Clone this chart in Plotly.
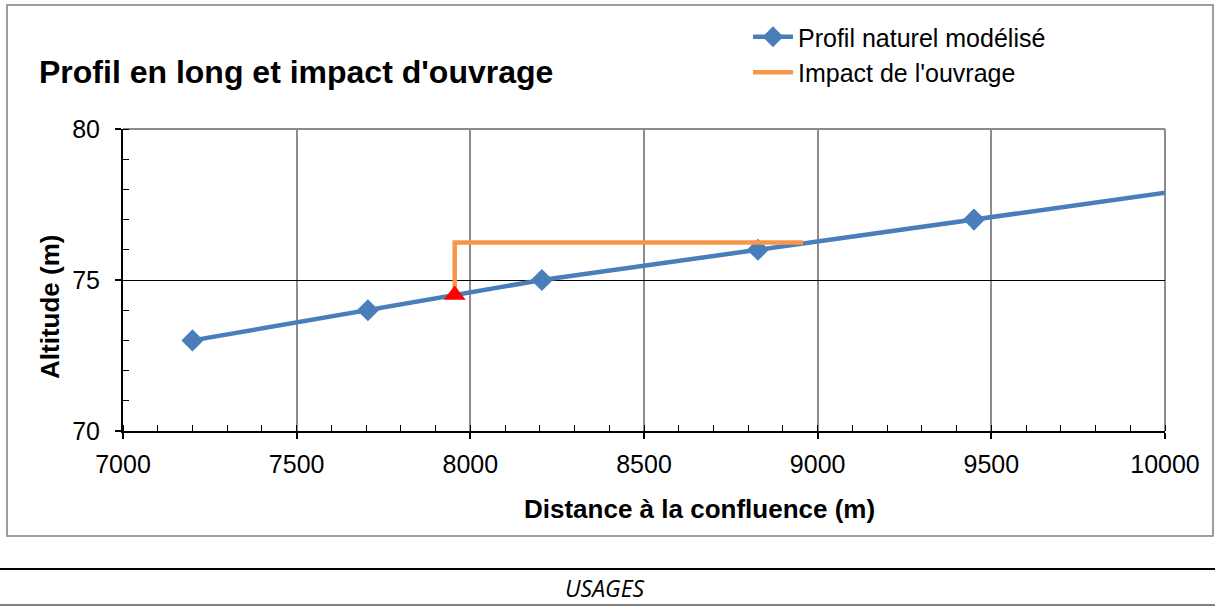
import plotly.graph_objects as go

# Profil naturel modélisé (distance à la confluence en m, altitude en m)
profil_distance = [7200, 7705, 8206, 8828, 9450, 10070]
profil_altitude = [73.0, 74.0, 75.0, 76.0, 77.0, 78.0]

# Impact de l'ouvrage : remous depuis l'ouvrage jusqu'au raccordement
impact_distance = [7955, 7955, 8958]
impact_altitude = [74.5, 76.24, 76.24]

# Position de l'ouvrage
ouvrage_distance = [7955]
ouvrage_altitude = [74.5]

x_ticks = [7000, 7500, 8000, 8500, 9000, 9500, 10000]
x_tick_labels = ["7000", "7500", "8000", "8500", "9000", "9500", "10000"]
y_ticks = [70, 75, 80]
y_tick_labels = ["70", "75", "80"]

W, H = 1215, 606
PL, PR, PT, PB = 123, 1165, 129, 431  # plot area in pixels


def px(x):
    return (x - PL) / (PR - PL)


def py(y):
    return (PB - y) / (PB - PT)


BLUE = "#4A7EBB"
ORANGE = "#F79646"
FONT = "Liberation Sans, Arial, sans-serif"

fig = go.Figure()

fig.add_trace(go.Scatter(
    x=profil_distance, y=profil_altitude, mode="lines+markers",
    name="Profil naturel modélisé",
    line=dict(color=BLUE, width=4.5),
    marker=dict(symbol="diamond", size=17, color=BLUE),
    cliponaxis=True,
))
fig.add_trace(go.Scatter(
    x=impact_distance, y=impact_altitude, mode="lines",
    name="Impact de l'ouvrage",
    line=dict(color=ORANGE, width=4.5),
))
fig.add_trace(go.Scatter(
    x=ouvrage_distance, y=ouvrage_altitude, mode="markers",
    showlegend=False,
    marker=dict(symbol="triangle-up", size=19, color="#FF0000"),
))

axis_common = dict(
    showline=True, linecolor="#000000", linewidth=2,
    ticks="outside", ticklen=6, tickcolor="#000000", tickwidth=1.5,
    tickfont=dict(family=FONT, size=25, color="#000000"),
    zeroline=False,
)

fig.update_xaxes(
    range=[7000, 10000], tickvals=x_ticks, ticktext=x_tick_labels,
    showgrid=True, gridcolor="#8C8C8C", gridwidth=2,
    ticklabelstandoff=4,
    minor=dict(dtick=100, ticks="inside", ticklen=6, tickcolor="#000000",
               tickwidth=1, showgrid=False),
    **axis_common,
)
fig.update_yaxes(
    range=[70, 80], tickvals=y_ticks, ticktext=y_tick_labels,
    showgrid=True, gridcolor="#000000", gridwidth=1,
    ticklabelstandoff=10,
    minor=dict(dtick=1, ticks="inside", ticklen=6, tickcolor="#000000",
               tickwidth=1, showgrid=False),
    **axis_common,
)

shapes = [
    # plot area frame (top and right)
    dict(type="line", xref="paper", yref="paper", x0=0, x1=1, y0=1, y1=1,
         line=dict(color="#8C8C8C", width=2), layer="below"),
    dict(type="line", xref="paper", yref="paper", x0=1, x1=1, y0=0, y1=1,
         line=dict(color="#8C8C8C", width=2), layer="below"),
    # chart border
    dict(type="rect", xref="paper", yref="paper",
         x0=px(7), x1=px(1213), y0=py(536), y1=py(5),
         line=dict(color="#7F7F7F", width=1.5)),
    # section rules
    dict(type="line", xref="paper", yref="paper",
         x0=px(0), x1=px(1215), y0=py(569), y1=py(569),
         line=dict(color="#000000", width=2)),
    dict(type="line", xref="paper", yref="paper",
         x0=px(0), x1=px(1215), y0=py(605), y1=py(605),
         line=dict(color="#000000", width=1)),
]

annotations = [
    dict(text="<b>Profil en long et impact d'ouvrage</b>", xref="paper", yref="paper",
         x=px(37), y=py(72), xanchor="left", yanchor="middle", showarrow=False,
         font=dict(family=FONT, size=32, color="#000000")),
    dict(text="<b>Distance à la confluence (m)</b>", xref="paper", yref="paper",
         x=px(699), y=py(509), xanchor="center", yanchor="middle", showarrow=False,
         font=dict(family=FONT, size=26, color="#000000")),
    dict(text="<b>Altitude (m)</b>", xref="paper", yref="paper",
         x=px(50), y=py(307), xanchor="center", yanchor="middle", showarrow=False,
         textangle=-90, font=dict(family=FONT, size=26, color="#000000")),
    dict(text="<i>USAGES</i>", xref="paper", yref="paper",
         x=px(605), y=py(588), xanchor="center", yanchor="middle", showarrow=False,
         font=dict(family="Open Sans, sans-serif", size=23, color="#000000")),
]

fig.update_layout(
    width=W, height=H,
    margin=dict(l=PL, r=W - PR, t=PT, b=H - PB, pad=0),
    paper_bgcolor="#FFFFFF", plot_bgcolor="#FFFFFF",
    shapes=shapes, annotations=annotations,
    legend=dict(x=px(748), y=py(14), xanchor="left", yanchor="top",
                bgcolor="rgba(0,0,0,0)", tracegroupgap=0, itemwidth=40,
                font=dict(family=FONT, size=25, color="#000000")),
    showlegend=True,
)

fig.write_html("out.html")
